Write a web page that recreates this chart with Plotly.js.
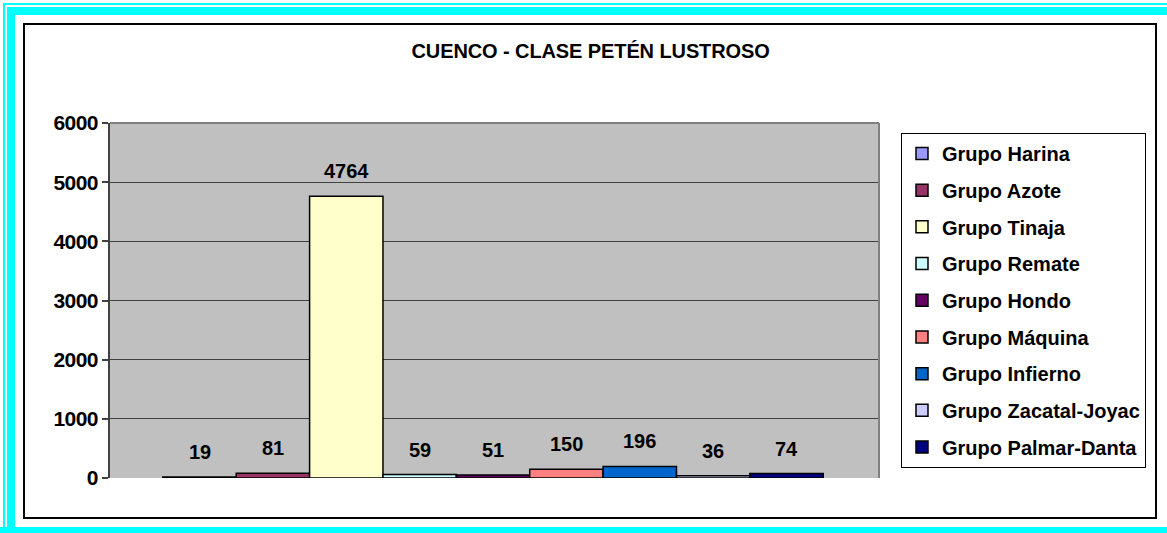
<!DOCTYPE html>
<html>
<head>
<meta charset="utf-8">
<script src="https://cdn.plot.ly/plotly-3.0.1.min.js"></script>
<style>
  html, body { margin: 0; padding: 0; background: #ffffff; }
  #wrap { position: relative; width: 1167px; height: 533px; overflow: hidden; }
  #chart { position: absolute; left: 0; top: 0; width: 1167px; height: 533px; }
  .frame { position: absolute; pointer-events: none; box-sizing: border-box; }
  .gtitle { letter-spacing: -0.1px; }
  .ytick text { letter-spacing: -0.6px; }
</style>
</head>
<body>
<div id="wrap">
  <div id="chart"></div>
  <div class="frame" style="left:3px; top:3px; width:1164px; height:2px; background:#00FFFF;"></div>
  <div class="frame" style="left:3px; top:3px; width:2px; height:530px; background:#00FFFF;"></div>
  <div class="frame" style="left:7px; top:7px; width:1160px; height:8px; background:#00FFFF;"></div>
  <div class="frame" style="left:7px; top:7px; width:8px; height:526px; background:#00FFFF;"></div>
  <div class="frame" style="left:0px; top:527px; width:1167px; height:6px; background:#00FFFF;"></div>
  <div class="frame" style="left:23px; top:23px; width:1134px; height:496px; border:2px solid #000000;"></div>
</div>
<script>
const titleText = "CUENCO - CLASE PETÉN LUSTROSO";
const seriesNames = ["Grupo Harina", "Grupo Azote", "Grupo Tinaja", "Grupo Remate", "Grupo Hondo",
                     "Grupo Máquina", "Grupo Infierno", "Grupo Zacatal-Joyac", "Grupo Palmar-Danta"];
const seriesValues = [19, 81, 4764, 59, 51, 150, 196, 36, 74];
const seriesColors = ["#9999FF", "#993366", "#FFFFCC", "#CCFFFF", "#660066",
                      "#FF8080", "#0066CC", "#CCCCFF", "#000080"];
const yTickVals = [0, 1000, 2000, 3000, 4000, 5000, 6000];

const font = "'Liberation Sans', Arial, sans-serif";

const traces = seriesNames.map((name, i) => ({
  type: "bar",
  name: name,
  x: [name],
  y: [seriesValues[i]],
  legendgroup: "g" + i,
  marker: { color: seriesColors[i], line: { color: "#000000", width: 1.5 } },
  hoverinfo: "name+y"
}));

const annotations = seriesNames.map((name, i) => ({
  x: name, y: seriesValues[i], xref: "x", yref: "y",
  text: "<b>" + seriesValues[i] + "</b>",
  showarrow: false, yshift: 25, yanchor: "middle",
  font: { family: font, size: 20, color: "#000000" }
}));

const layout = {
  width: 1167, height: 533,
  margin: { l: 110, r: 288, t: 123, b: 55 },
  paper_bgcolor: "#FFFFFF",
  plot_bgcolor: "#C0C0C0",
  showlegend: true,
  barmode: "overlay",
  bargap: 0,
  title: {
    text: "<b>" + titleText + "</b>",
    font: { family: font, size: 20, color: "#000000" },
    x: 0.625, xanchor: "center", xref: "paper",
    y: 0.904, yanchor: "middle", yref: "container"
  },
  xaxis: {
    type: "category",
    range: [-1.22, 9.26],
    showticklabels: false, ticks: "",
    showgrid: false, zeroline: false,
    showline: false, fixedrange: true
  },
  yaxis: {
    range: [0, 6000],
    tickvals: yTickVals,
    ticktext: yTickVals.map(v => "<b>" + v + "</b>"),
    ticks: "outside", ticklen: 6, tickcolor: "#404040", tickwidth: 2,
    tickfont: { family: font, size: 21, color: "#000000" },
    showgrid: true, gridcolor: "#404040", gridwidth: 1,
    zeroline: false,
    showline: true, linecolor: "#404040", linewidth: 2,
    fixedrange: true
  },
  shapes: [
    { type: "line", xref: "paper", yref: "paper", x0: 0, x1: 1, y0: 1, y1: 1,
      line: { color: "#808080", width: 2 } },
    { type: "line", xref: "paper", yref: "paper", x0: 1, x1: 1, y0: 0, y1: 1,
      line: { color: "#808080", width: 2 } }
  ],
  legend: {
    x: 1.0286, xanchor: "left", xref: "paper",
    y: 0.972, yanchor: "top", yref: "paper",
    bgcolor: "#FFFFFF", bordercolor: "#000000", borderwidth: 1,
    font: { family: font, size: 20, color: "#000000", weight: "bold" },
    traceorder: "grouped", tracegroupgap: 7.7,
    itemwidth: 30
  },
  annotations: annotations
};

Plotly.newPlot("chart", traces, layout, { displayModeBar: false, staticPlot: true });
</script>
</body>
</html>
